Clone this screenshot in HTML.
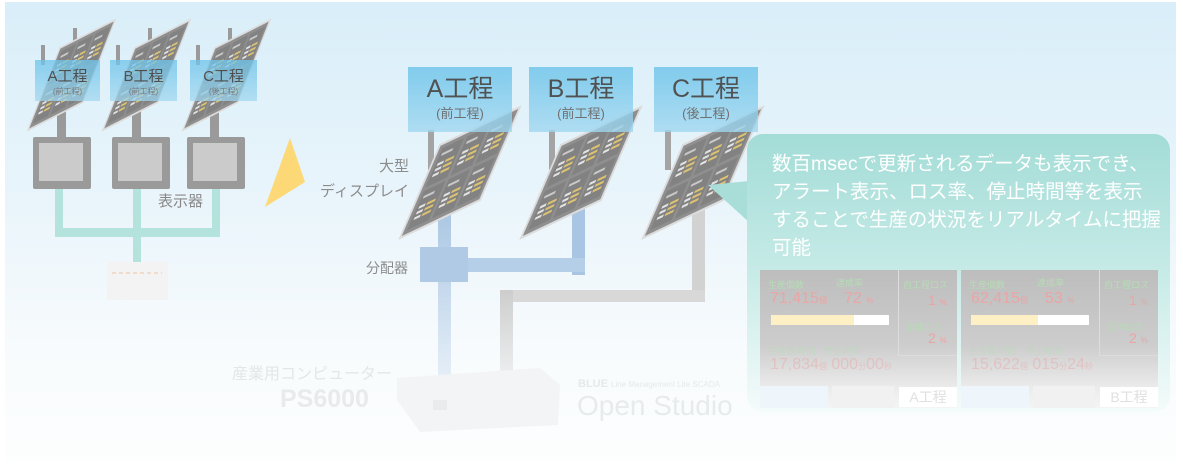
<!DOCTYPE html>
<html><head><meta charset="utf-8">
<style>
*{margin:0;padding:0;box-sizing:border-box}
body{width:1183px;height:465px;overflow:hidden;background:#fff;font-family:"Liberation Sans","Noto Sans CJK JP",sans-serif;position:relative}
.bg{position:absolute;left:5px;top:2px;width:1171px;height:460px;background:linear-gradient(#d9eef9 0%,#eaf5fb 45%,#f7fbfd 75%,#fdfefe 100%)}
.a{position:absolute}
.lbl{position:absolute;background:linear-gradient(rgba(110,196,234,.9),rgba(160,215,240,.85));text-align:center;color:#444}
.t{position:absolute;white-space:nowrap}
.dash{position:absolute;width:197px;height:138px;background:linear-gradient(#bdbdbd,#cdcdcd 55%,#ebebeb 85%,#f3f5f5);overflow:hidden}
.dash .t{font-size:9px}
.g{color:#b5dcb5}.r{color:#eaa5a5}
.fade{opacity:.45}
</style></head><body>
<div class="bg"></div>

<svg class="a" style="left:0;top:0" width="1183" height="465">
 <defs>
  <g id="pn">
   <rect x="0" y="0" width="100" height="100" fill="#8f8f8f" stroke="#dcdcdc" stroke-width="3"/>
   <g fill="#828282">
    <rect x="6" y="6" width="27" height="42"/><rect x="37" y="6" width="27" height="42"/><rect x="68" y="6" width="27" height="42"/>
    <rect x="6" y="52" width="27" height="42"/><rect x="37" y="52" width="27" height="42"/><rect x="68" y="52" width="27" height="42"/>
   </g>
   <g stroke-width="3">
    <g stroke="#c9c9c9"><path d="M9 14h14M40 14h14M71 14h14M9 60h14M40 60h14M71 60h14"/></g>
    <g stroke="#e4e4e4"><path d="M9 25h8M9 31h8M9 37h8M40 25h8M40 31h8M40 37h8M71 25h8M71 31h8M71 37h8M9 71h8M9 77h8M9 83h8M40 71h8M40 77h8M40 83h8M71 71h8M71 77h8M71 83h8"/></g>
    <g stroke="#dcc272"><path d="M19 25h11M19 31h11M19 37h11M50 25h11M50 31h11M50 37h11M81 25h11M81 31h11M81 37h11M19 71h11M19 77h11M19 83h11M50 71h11M50 77h11M50 83h11M81 71h11M81 77h11M81 83h11"/></g>
   </g>
  </g>
  <linearGradient id="bl" x1="0" y1="0" x2="0" y2="1"><stop offset="0" stop-color="#a7c4e2"/><stop offset="1" stop-color="#e6eff8"/></linearGradient>
  <linearGradient id="gr" x1="0" y1="0" x2="0" y2="1"><stop offset="0" stop-color="#cdcdcd"/><stop offset="1" stop-color="#f0f2f3"/></linearGradient>
  <linearGradient id="co" x1="0" y1="0" x2="0" y2="1"><stop offset="0" stop-color="#a3dcd7"/><stop offset=".5" stop-color="#c7ebe7"/><stop offset="1" stop-color="#f4fbfb"/></linearGradient>
 </defs>

 <!-- small left section -->
 <g fill="#9a9a9a">
  <rect x="41" y="45" width="4" height="20"/><rect x="73" y="28" width="4" height="20"/><rect x="57" y="100" width="9" height="38"/>
  <rect x="116" y="45" width="4" height="20"/><rect x="148" y="28" width="4" height="20"/><rect x="132" y="100" width="9" height="38"/>
  <rect x="196" y="45" width="4" height="20"/><rect x="228" y="28" width="4" height="20"/><rect x="210" y="100" width="9" height="38"/>
 </g>
 <use href="#pn" transform="matrix(0.55,-0.28,-0.32,0.82,60,48)"/>
 <use href="#pn" transform="matrix(0.55,-0.28,-0.32,0.82,135,48)"/>
 <use href="#pn" transform="matrix(0.55,-0.28,-0.32,0.82,215,48)"/>
 <g fill="#b4e2dc">
  <rect x="55" y="186" width="8" height="50"/><rect x="133" y="186" width="8" height="76"/><rect x="212" y="186" width="8" height="50"/>
  <rect x="55" y="228" width="165" height="9"/>
 </g>
 <g>
  <rect x="33" y="137" width="58" height="52" rx="2" fill="#9a9a9a"/><rect x="39" y="143" width="44" height="38" fill="#cbcbcb"/>
  <rect x="112" y="137" width="58" height="52" rx="2" fill="#9a9a9a"/><rect x="118" y="143" width="44" height="38" fill="#cbcbcb"/>
  <rect x="187" y="137" width="58" height="52" rx="2" fill="#9a9a9a"/><rect x="193" y="143" width="44" height="38" fill="#cbcbcb"/>
 </g>
 <rect x="107" y="262" width="61" height="38" fill="#f3f3f3"/><path d="M112 273h50" stroke="#f0dccc" stroke-width="2" stroke-dasharray="4 3"/>
 <polygon points="290,138 305,182 265,207" fill="#fcd877"/>

 <!-- main cables -->
 <g fill="#a4a4a4">
  <rect x="428" y="130" width="6" height="40"/><rect x="549" y="130" width="6" height="40"/><rect x="665" y="130" width="6" height="40"/>
 </g>
 <rect x="438" y="200" width="13" height="180" fill="url(#bl)"/>
 <rect x="572" y="195" width="13" height="80" fill="#a8c5e3"/>
 <rect x="451" y="258" width="134" height="14" fill="#b6cfe9"/>
 <rect x="420" y="247" width="48" height="35" fill="#b0cae6"/>
 <rect x="692" y="195" width="13" height="107" fill="#d2d2d2"/>
 <rect x="500" y="290" width="205" height="12" fill="#d8d8d8"/>
 <rect x="500" y="290" width="13" height="95" fill="url(#gr)"/>

 <use href="#pn" transform="matrix(0.8,-0.38,-0.4,0.93,440,145)"/>
 <use href="#pn" transform="matrix(0.8,-0.38,-0.4,0.93,561,145)"/>
 <use href="#pn" transform="matrix(0.8,-0.38,-0.4,0.93,683,145)"/>

 <!-- callout -->
 <polygon points="708,185 760,180 760,232" fill="#a9ddd8"/>
 <rect x="747" y="134" width="423" height="278" rx="16" fill="url(#co)"/>

 <!-- computer -->
 <path d="M397 378 L540 368 L560 385 L558 425 L420 432 L397 400 Z" fill="#f2f4f5"/>
 <rect x="433" y="400" width="14" height="10" fill="#e9ebec"/>
</svg>

<div class="lbl" style="left:35px;top:60px;width:65px;height:41px;opacity:.85"><div style="font-size:15px;margin-top:5px">A工程</div><div style="font-size:8px;color:#777">(前工程)</div></div>
<div class="lbl" style="left:110px;top:60px;width:67px;height:41px;opacity:.85"><div style="font-size:15px;margin-top:5px">B工程</div><div style="font-size:8px;color:#777">(前工程)</div></div>
<div class="lbl" style="left:190px;top:60px;width:67px;height:41px;opacity:.85"><div style="font-size:15px;margin-top:5px">C工程</div><div style="font-size:8px;color:#777">(後工程)</div></div>
<div class="t" style="left:158px;top:190px;font-size:15px;color:#888">表示器</div>

<div class="lbl" style="left:408px;top:67px;width:104px;height:65px;opacity:.92"><div style="font-size:25px;margin-top:8px;line-height:28px">A工程</div><div style="font-size:13px;color:#666">(前工程)</div></div>
<div class="lbl" style="left:529px;top:67px;width:104px;height:65px;opacity:.92"><div style="font-size:25px;margin-top:8px;line-height:28px">B工程</div><div style="font-size:13px;color:#666">(前工程)</div></div>
<div class="lbl" style="left:654px;top:67px;width:104px;height:65px;opacity:.92"><div style="font-size:25px;margin-top:8px;line-height:28px">C工程</div><div style="font-size:13px;color:#666">(後工程)</div></div>
<div class="t" style="right:774px;top:154px;font-size:15px;color:#8c8c8c;text-align:right;line-height:25px">大型<br>ディスプレイ</div>
<div class="t" style="left:366px;top:258px;font-size:14px;color:#8c8c8c">分配器</div>

<div class="t" style="left:772px;top:150px;font-size:19.5px;line-height:28px;color:#fff">数百msecで更新されるデータも表示でき、<br>アラート表示、ロス率、停止時間等を表示<br>することで生産の状況をリアルタイムに把握<br>可能</div>

<div class="dash" style="left:760px;top:270px">
 <div class="t g" style="left:8px;top:8px">生産個数</div><div class="t g" style="left:76px;top:6px">達成率</div>
 <div class="t r" style="left:10px;top:20px;font-size:16px">71,415<span style="font-size:8px">個</span></div>
 <div class="t r" style="left:84px;top:20px;font-size:16px">72 <span style="font-size:8px">%</span></div>
 <div style="position:absolute;left:11px;top:45px;width:118px;height:10px;background:#fff"><div style="width:70%;height:100%;background:#fdf0c4"></div></div>
 <div class="t g fade" style="left:8px;top:74px">生産数/時間　停止時間</div>
 <div class="t r fade" style="left:10px;top:86px;font-size:16px">17,834<span style="font-size:8px">個</span> 000<span style="font-size:8px">分</span>00<span style="font-size:8px">秒</span></div>
 <div style="position:absolute;left:138px;top:0;width:59px;height:86px;border-left:1px solid #ddd;border-bottom:1px solid #ddd"></div>
 <div class="t g" style="left:143px;top:8px">自工程ロス</div><div class="t r" style="left:168px;top:22px;font-size:14px">1 <span style="font-size:8px">%</span></div>
 <div class="t g" style="left:146px;top:50px">全体ロス</div><div class="t r" style="left:168px;top:60px;font-size:14px">2 <span style="font-size:8px">%</span></div>
 <div style="position:absolute;left:0;top:116px;width:68px;height:22px;background:#eef5fb"></div>
 <div style="position:absolute;left:72px;top:116px;width:62px;height:22px;background:#f1f1f1"></div>
 <div style="position:absolute;left:139px;top:117px;width:58px;height:20px;background:#fff;color:#e0e0e0;font-size:14px;text-align:center">A工程</div>
</div>
<div class="dash" style="left:961px;top:270px">
 <div class="t g" style="left:8px;top:8px">生産個数</div><div class="t g" style="left:76px;top:6px">達成率</div>
 <div class="t r" style="left:10px;top:20px;font-size:16px">62,415<span style="font-size:8px">個</span></div>
 <div class="t r" style="left:84px;top:20px;font-size:16px">53 <span style="font-size:8px">%</span></div>
 <div style="position:absolute;left:10px;top:45px;width:118px;height:10px;background:#fff"><div style="width:57%;height:100%;background:#fdf0c4"></div></div>
 <div class="t g fade" style="left:8px;top:74px">生産数/時間　停止時間</div>
 <div class="t r fade" style="left:10px;top:86px;font-size:16px">15,622<span style="font-size:8px">個</span> 015<span style="font-size:8px">分</span>24<span style="font-size:8px">秒</span></div>
 <div style="position:absolute;left:138px;top:0;width:59px;height:86px;border-left:1px solid #ddd;border-bottom:1px solid #ddd"></div>
 <div class="t g" style="left:143px;top:8px">自工程ロス</div><div class="t r" style="left:168px;top:22px;font-size:14px">1 <span style="font-size:8px">%</span></div>
 <div class="t g" style="left:146px;top:50px">全体ロス</div><div class="t r" style="left:168px;top:60px;font-size:14px">2 <span style="font-size:8px">%</span></div>
 <div style="position:absolute;left:0;top:116px;width:68px;height:22px;background:#eef5fb"></div>
 <div style="position:absolute;left:72px;top:116px;width:62px;height:22px;background:#f1f1f1"></div>
 <div style="position:absolute;left:139px;top:117px;width:58px;height:20px;background:#fff;color:#e0e0e0;font-size:14px;text-align:center">B工程</div>
</div>

<div class="t" style="left:232px;top:360px;font-size:16px;color:#e4e6e8">産業用コンピューター</div>
<div class="t" style="left:280px;top:385px;font-size:25px;font-weight:bold;color:#e8eaec">PS6000</div>
<div class="t" style="left:578px;top:378px;font-size:11px;color:#e6e9ec;font-weight:bold">BLUE <span style="font-weight:normal;font-size:8px">Line Management Lite SCADA</span></div>
<div class="t" style="left:577px;top:390px;font-size:28px;color:#e8ebee">Open Studio</div>
</body></html>
